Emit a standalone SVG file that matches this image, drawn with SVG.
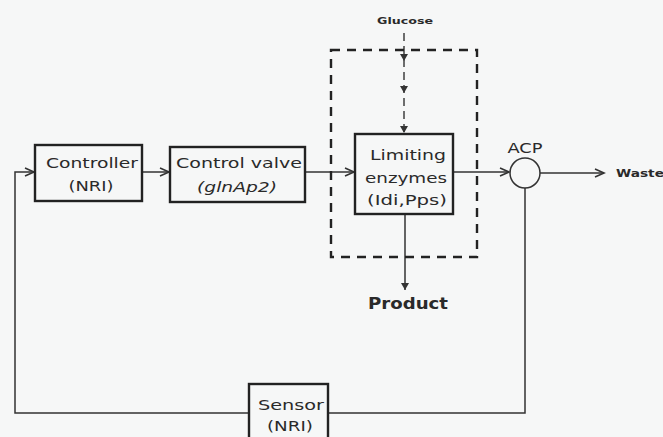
<svg xmlns="http://www.w3.org/2000/svg" width="663" height="437" viewBox="0 0 663 437">
<style>
.box{fill:none;stroke:#222;stroke-width:2.4}
.ln{fill:none;stroke:#333;stroke-width:1.5}
.dash{fill:none;stroke:#222;stroke-width:2.4;stroke-dasharray:9,7}
text{font-family:"DejaVu Sans","Liberation Sans",Arial,sans-serif;fill:#2a2a2a;text-anchor:middle}
.t{font-size:14px}
.s{font-size:9px;font-weight:bold}
</style>
<defs>
<marker id="open" markerWidth="12" markerHeight="10" refX="10" refY="5" orient="auto" markerUnits="userSpaceOnUse">
<polyline points="1,1 10,5 1,9" fill="none" stroke="#333" stroke-width="1.6"/>
</marker>
<marker id="tri" markerWidth="10" markerHeight="10" refX="8" refY="5" orient="auto" markerUnits="userSpaceOnUse">
<path d="M1,1 L8,5 L1,9 Z" fill="#333"/>
</marker>
</defs>
<rect width="663" height="437" fill="#f6f7f7"/>
<g id="connectors">
<line class="ln" x1="142" y1="172" x2="169" y2="172" marker-end="url(#open)"/>
<line class="ln" x1="305" y1="172" x2="354" y2="172" marker-end="url(#open)"/>
<line class="ln" x1="453" y1="172" x2="509" y2="172" marker-end="url(#open)"/>
<line class="ln" x1="540" y1="173" x2="604" y2="173" marker-end="url(#open)"/>
<polyline class="ln" points="525,188 525,413 328,413"/>
<polyline class="ln" points="249,413 15,413 15,172 34,172" marker-end="url(#open)"/>
<line class="ln" x1="405" y1="214" x2="405" y2="290" marker-end="url(#tri)"/>
<line x1="404" y1="33" x2="404" y2="133" stroke="#333" stroke-width="1.4" stroke-dasharray="8,5"/>
<path d="M400,54 L408,54 L404,61 Z M400,86 L408,86 L404,93 Z M400,126 L408,126 L404,133 Z" fill="#333"/>
</g>
<g id="dashed-region">
<rect class="dash" x="331" y="50" width="146" height="207"/>
</g>
<g id="controller">
<rect class="box" x="35" y="145" width="107" height="56"/>
<text class="t" x="92" y="168" textLength="92" lengthAdjust="spacingAndGlyphs">Controller</text>
<text class="t" x="91" y="191" textLength="45" lengthAdjust="spacingAndGlyphs">(NRI)</text>
</g>
<g id="control-valve">
<rect class="box" x="170" y="147" width="135" height="55"/>
<text class="t" x="239" y="168" textLength="126" lengthAdjust="spacingAndGlyphs">Control valve</text>
<text class="t" x="237" y="192" font-style="italic" textLength="80" lengthAdjust="spacingAndGlyphs">(glnAp2)</text>
</g>
<g id="limiting-enzymes">
<rect class="box" x="355" y="134" width="98" height="80"/>
<text class="t" x="408" y="160" textLength="76" lengthAdjust="spacingAndGlyphs">Limiting</text>
<text class="t" x="406" y="183" textLength="82" lengthAdjust="spacingAndGlyphs">enzymes</text>
<text class="t" x="407" y="205" textLength="80" lengthAdjust="spacingAndGlyphs">(Idi,Pps)</text>
</g>
<g id="acp">
<circle cx="525" cy="173" r="15" fill="none" stroke="#333" stroke-width="1.5"/>
<text class="t" x="525" y="153" textLength="35" lengthAdjust="spacingAndGlyphs">ACP</text>
</g>
<g id="sensor">
<rect class="box" x="249" y="384" width="79" height="58"/>
<text class="t" x="291" y="410" textLength="66" lengthAdjust="spacingAndGlyphs">Sensor</text>
<text class="t" x="290" y="431" textLength="46" lengthAdjust="spacingAndGlyphs">(NRI)</text>
</g>
<g id="glucose"><text class="s" x="405" y="24" textLength="56" lengthAdjust="spacingAndGlyphs">Glucose</text></g>
<g id="waste"><text x="616" y="177" font-size="10" font-weight="bold" style="text-anchor:start" textLength="48" lengthAdjust="spacingAndGlyphs">Waste</text></g>
<g id="product"><text x="408" y="309" font-size="15" font-weight="bold" textLength="80" lengthAdjust="spacingAndGlyphs">Product</text></g>
</svg>
